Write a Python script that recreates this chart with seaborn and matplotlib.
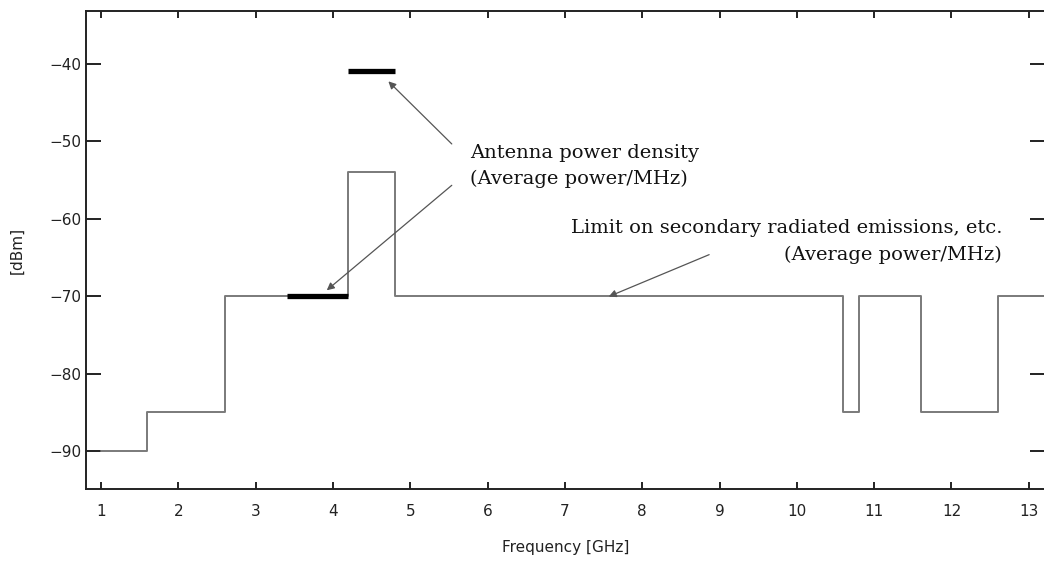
import matplotlib
matplotlib.use("Agg")
import matplotlib.pyplot as plt
import seaborn as sns
import pandas as pd

# ---- data ----
edges_ghz = [1.0, 1.6, 2.6, 4.2, 4.8, 10.6, 10.8, 11.6, 12.6, 13.3]
limit_dbm = [-90, -85, -70, -54, -70, -85, -70, -85, -70, -70]
antenna_low_x = [3.4, 4.2]
antenna_low_y = [-70, -70]
antenna_high_x = [4.2, 4.8]
antenna_high_y = [-41, -41]
xticks = list(range(1, 14))
yticks = [-90, -80, -70, -60, -50, -40]

label_antenna = "Antenna power density\n(Average power/MHz)"
label_limit = "Limit on secondary radiated emissions, etc.\n(Average power/MHz)"

sns.set_style("ticks")
plt.rcParams["font.family"] = ["DejaVu Sans"]

fig = plt.figure(figsize=(10.44, 5.65), dpi=100)
W, H = 1044, 565
left, right, top, bottom = 86, 1045, 11, 489
ax = fig.add_axes([left / W, 1 - bottom / H, (right - left) / W, (bottom - top) / H])

df = pd.DataFrame({"f": edges_ghz, "p": limit_dbm})
sns.lineplot(data=df, x="f", y="p", ax=ax, drawstyle="steps-post",
             color="#7a7a7a", linewidth=1.4, estimator=None, sort=False)

low = pd.DataFrame({"f": antenna_low_x, "p": antenna_low_y})
high = pd.DataFrame({"f": antenna_high_x, "p": antenna_high_y})
for d in (low, high):
    sns.lineplot(data=d, x="f", y="p", ax=ax, color="black", linewidth=3.8,
                 estimator=None, sort=False, solid_capstyle="butt")

ax.set_xlim(0.806, 13.21)
ax.set_ylim(-94.9, -33.2)
ax.set_xticks(xticks)
ax.set_yticks(yticks)
ax.set_xticklabels([str(t) for t in xticks])
ax.set_yticklabels([f"\u2212{abs(t)}" for t in yticks])

for s in ax.spines.values():
    s.set_visible(True)
    s.set_linewidth(1.4)
    s.set_color("#222222")

ax.tick_params(axis="x", which="both", direction="in", length=5, width=1.4,
               top=True, bottom=True, labelsize=11, pad=11, colors="#222222")
ax.tick_params(axis="y", which="both", direction="in", length=11, width=1.4,
               left=True, right=True, labelsize=11, pad=3, colors="#222222")

ax.set_xlabel("Frequency [GHz]", fontsize=11, labelpad=15, color="#222222")
ax.set_ylabel("[dBm]", fontsize=11, labelpad=18, color="#222222")

serif = ["DejaVu Serif"]
arrow_kw = dict(arrowstyle="-|>", color="#555555", lw=0.9, mutation_scale=11,
                shrinkA=0, shrinkB=0)

ax.text(5.774, -53.2, label_antenna, family=serif, fontsize=14, ha="left",
        va="center", linespacing=1.6, color="#111111")
ax.annotate("", xy=(4.717, -42.28), xytext=(5.537, -50.36), arrowprops=arrow_kw)
ax.annotate("", xy=(3.92, -69.25), xytext=(5.537, -55.70), arrowprops=arrow_kw)

ax.text(12.656, -63.0, label_limit, family=serif, fontsize=14, ha="right",
        va="center", multialignment="right", linespacing=1.6, color="#111111")
ax.annotate("", xy=(7.567, -70.06), xytext=(8.866, -64.65), arrowprops=arrow_kw)

fig.savefig("out.png", dpi=100)
